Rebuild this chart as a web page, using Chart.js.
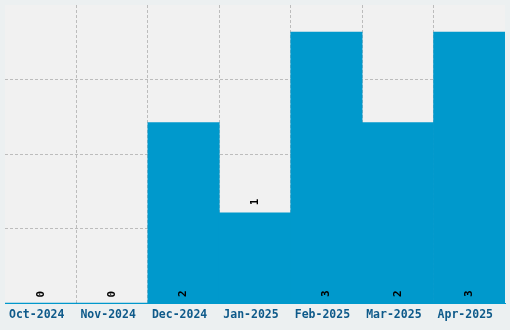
<!DOCTYPE html>
<html>
<head>
<meta charset="utf-8">
<script src="https://cdn.jsdelivr.net/npm/chart.js@4"></script>
<style>
  html, body { margin: 0; padding: 0; background: #ecf0f1; }
  #wrap { width: 510px; height: 330px; }
</style>
</head>
<body>
<div id="wrap"><canvas id="grafico" width="510" height="330"></canvas></div>
<script>
var meses = ['Oct-2024', 'Nov-2024', 'Dec-2024', 'Jan-2025', 'Feb-2025', 'Mar-2025', 'Apr-2025'];
var valores = [0, 0, 2, 1, 3, 2, 3];
var posRotulo = ['start', 'start', 'start', 'end', 'start', 'start', 'start'];
var eixoMax = 3.3;
var passo = 0.825;

// fundo da area do grafico
var fundoArea = {
    id: 'fundoArea',
    beforeDraw: function (chart) {
        var a = chart.chartArea;
        var c = chart.ctx;
        c.save();
        c.fillStyle = '#f1f1f1';
        c.fillRect(a.left, a.top, a.right - a.left, a.bottom - a.top);
        c.restore();
    }
};

// rotulos verticais dos valores
var rotulos = {
    id: 'rotulos',
    afterDraw: function (chart) {
        var c = chart.ctx;
        var meta = chart.getDatasetMeta(0);
        c.save();
        c.font = 'bold 11px "DejaVu Sans Mono", monospace';
        c.fillStyle = '#000';
        c.textAlign = 'center';
        c.textBaseline = 'middle';
        meta.data.forEach(function (bar, i) {
            var y = posRotulo[i] === 'end' ? bar.y - 11 : bar.base - 9;
            c.save();
            c.translate(bar.x, y);
            c.rotate(-Math.PI / 2);
            c.fillText(String(valores[i]), 0, 0);
            c.restore();
        });
        c.restore();
    }
};

var corGrade = 'rgba(0, 0, 0, 0.22)';

var ctx = document.getElementById('grafico').getContext('2d');
var grafico = new Chart(ctx, {
    type: 'bar',
    data: {
        labels: meses,
        datasets: [{
            data: valores,
            backgroundColor: '#0099cc',
            borderWidth: 0,
            barPercentage: 1,
            categoryPercentage: 1
        }]
    },
    options: {
        responsive: false,
        animation: false,
        layout: { padding: { left: 5, right: 5, top: 5, bottom: 3 } },
        plugins: {
            legend: { display: false },
            tooltip: { enabled: false }
        },
        scales: {
            x: {
                z: 1,
                grid: {
                    offset: true,
                    drawTicks: false,
                    color: function (c) {
                        return (c.type === 'tick' && c.index > 0) ? corGrade : 'transparent';
                    }
                },
                border: { display: true, color: '#0099cc', width: 1, dash: [3, 2] },
                ticks: {
                    padding: 5,
                    labelOffset: -4,
                    color: '#0e5a8a',
                    font: { family: '"DejaVu Sans Mono", monospace', size: 11.5, weight: 'bold' }
                }
            },
            y: {
                z: 1,
                display: true,
                min: 0,
                max: eixoMax,
                border: { display: false, dash: [3, 2] },
                grid: {
                    drawTicks: false,
                    color: function (c) {
                        return (c.type === 'tick' && c.index > 0 && c.tick.value < eixoMax - 0.01) ? corGrade : 'transparent';
                    }
                },
                ticks: { display: false, stepSize: passo }
            }
        }
    },
    plugins: [fundoArea, rotulos]
});
</script>
</body>
</html>
